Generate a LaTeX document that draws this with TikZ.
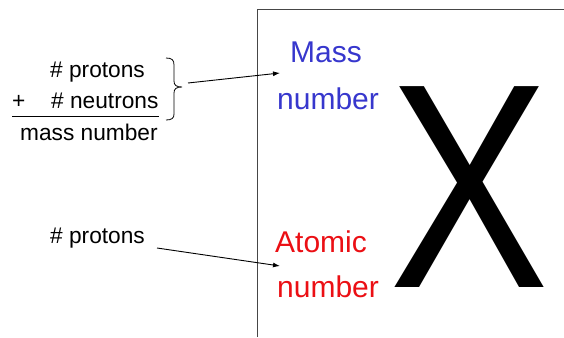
\documentclass[tikz,border=0pt]{standalone}
\usepackage{fontspec}
\setmainfont{Liberation Sans}
\usetikzlibrary{arrows.meta}
\definecolor{massblue}{RGB}{55,55,205}
\definecolor{atomred}{RGB}{235,15,20}
\definecolor{boxgray}{RGB}{70,70,70}
\tikzset{
  lbl/.style={inner sep=0pt, anchor=base west, font=\fontsize{22.7}{26}\selectfont},
  big/.style={inner sep=0pt, anchor=base west, font=\fontsize{30}{34}\selectfont},
  conn/.style={draw=black, line width=0.9pt, -{Latex[length=7pt,width=5pt]}},
}
\begin{document}
\begin{tikzpicture}[x=1pt,y=-1pt]
\useasboundingbox (0,0) rectangle (564,337);
% box
\draw[boxgray, line width=1.3pt] (257.5,337) -- (257.5,9.5) -- (564,9.5);
% left texts
\node[lbl] (p1) at (50,77) {\# protons};
\node[lbl] (plus) at (12,108) {+};
\node[lbl] (n1) at (51,108) {\# neutrons};
\node[lbl] (mn) at (20,140) {mass number};
\draw[line width=1.5pt] (12,116.5) -- (159,116.5);
% brace
\draw[line width=0.8pt] (166,58) .. controls (172,58) and (174,60) .. (174,65) -- (174,81)
  .. controls (174,85) and (176,87) .. (182,87)
  .. controls (176,87) and (174,89) .. (174,93) -- (174,114)
  .. controls (174,118) and (172,120) .. (166,120);
\node[lbl] (p2) at (50,243) {\# protons};
% right texts
\node[big, text=massblue] (mass) at (290,63) {Mass};
\node[big, text=massblue] (mnum) at (277,109) {number};
\node[big, text=atomred] (atom) at (275,252) {Atomic};
\node[big, text=atomred] (anum) at (277,297) {number};
% X
\node[inner sep=0pt, anchor=base, font=\fontsize{292}{292}\selectfont] (X) at (469.5,287) {\scalebox{0.82}[1]{X}};
% connectors
\coordinate (b1) at (188,83);
\coordinate (m1) at (280,73);
\coordinate (p2e) at (157,248);
\coordinate (a1) at (280,266);
\draw[conn] (b1) -- (m1);
\draw[conn] (p2e) -- (a1);
\end{tikzpicture}
\end{document}
